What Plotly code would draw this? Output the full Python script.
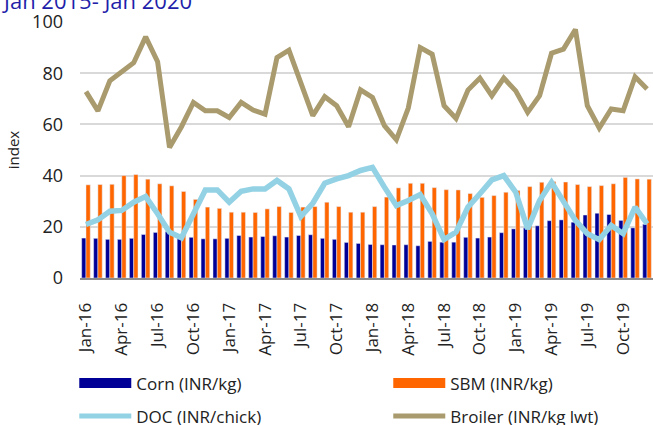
import plotly.graph_objects as go

months = []
for yr in ["16", "17", "18", "19"]:
    for m in ["Jan", "Feb", "Mar", "Apr", "May", "Jun", "Jul", "Aug", "Sep", "Oct", "Nov", "Dec"]:
        months.append(f"{m}-{yr}")

tick_labels = [m for i, m in enumerate(months) if i % 3 == 0]

corn = [15.6, 15.5, 15.1, 15.1, 15.5, 17.0, 17.8, 18.1, 15.3, 15.9, 15.3, 15.3,
        15.5, 16.6, 16.0, 16.2, 16.5, 16.0, 16.6, 16.9, 15.5, 15.1, 13.9, 13.5,
        13.1, 13.0, 12.9, 13.0, 12.6, 14.3, 14.0, 14.0, 15.9, 15.6, 16.0, 17.7,
        19.2, 19.6, 20.4, 22.4, 22.7, 21.8, 24.6, 25.3, 24.8, 22.5, 19.6, 21.0]

sbm = [36.4, 36.5, 36.6, 40.0, 40.4, 38.6, 36.8, 36.0, 33.8, 30.7, 27.7, 27.2,
       25.7, 25.7, 25.6, 27.0, 27.9, 25.6, 27.7, 27.9, 29.6, 27.9, 25.7, 25.7,
       27.9, 31.6, 35.2, 37.0, 37.0, 35.3, 34.5, 34.4, 33.0, 31.5, 32.2, 33.5,
       34.2, 35.7, 37.4, 37.7, 37.5, 36.5, 35.7, 36.1, 36.8, 39.3, 38.7, 38.6]

doc = [20.9, 22.7, 26.1, 26.4, 29.6, 31.8, 25.1, 17.9, 15.7, 25.1, 34.4, 34.4,
       29.6, 33.9, 34.8, 34.8, 38.1, 34.8, 24.0, 29.2, 37.0, 38.7, 40.0, 42.0,
       43.2, 35.5, 28.3, 30.3, 32.6, 25.1, 15.0, 17.9, 27.7, 32.9, 38.3, 40.0,
       33.5, 19.2, 30.3, 37.4, 29.6, 22.5, 17.3, 15.0, 20.5, 17.3, 27.7, 21.2]

broiler = [72.8, 65.3, 77.0, 80.6, 84.1, 94.2, 84.5, 51.0, 59.1, 68.6, 65.3, 65.3,
           62.7, 68.6, 65.6, 64.0, 86.1, 89.0, 76.4, 63.4, 70.8, 67.3, 59.1, 73.5,
           70.5, 59.5, 54.0, 66.4, 90.0, 87.4, 67.3, 62.3, 73.4, 78.1, 71.2, 78.1,
           73.1, 64.7, 71.2, 87.8, 89.4, 97.1, 67.3, 58.6, 66.0, 65.3, 78.6, 73.8]

C_CORN = "#000096"
C_SBM = "#FF6600"
C_DOC = "#92D2E4"
C_BROILER = "#A99B6E"
FONT = "Open Sans"

fig = go.Figure()
fig.add_trace(go.Bar(x=months, y=corn, name="Corn (INR/kg)", marker_color=C_CORN,
                     showlegend=False))
fig.add_trace(go.Bar(x=months, y=sbm, name="SBM (INR/kg)", marker_color=C_SBM,
                     showlegend=False))
fig.add_trace(go.Scatter(x=months, y=doc, name="DOC (INR/chick)", mode="lines",
                         line=dict(color=C_DOC, width=5.5), showlegend=False))
fig.add_trace(go.Scatter(x=months, y=broiler, name="Broiler (INR/kg lwt)", mode="lines",
                         line=dict(color=C_BROILER, width=5), showlegend=False))

# legend entries
fig.add_trace(go.Scatter(x=[None], y=[None], mode="lines", name="Corn (INR/kg)",
                         line=dict(color=C_CORN, width=12), legend="legend"))
fig.add_trace(go.Scatter(x=[None], y=[None], mode="lines", name="SBM (INR/kg)",
                         line=dict(color=C_SBM, width=12), legend="legend"))
fig.add_trace(go.Scatter(x=[None], y=[None], mode="lines", name="DOC (INR/chick)",
                         line=dict(color=C_DOC, width=5), legend="legend2"))
fig.add_trace(go.Scatter(x=[None], y=[None], mode="lines", name="Broiler (INR/kg lwt)",
                         line=dict(color=C_BROILER, width=5), legend="legend2"))

leg_common = dict(orientation="h", xanchor="left", yanchor="middle",
                  font=dict(family=FONT, size=17, color="#222"),
                  entrywidth=247, itemwidth=52, bgcolor="rgba(0,0,0,0)",
                  traceorder="normal")

fig.update_layout(
    width=653, height=425,
    margin=dict(l=80, r=0, t=22, b=147, pad=0, autoexpand=False),
    paper_bgcolor="white", plot_bgcolor="white",
    barmode="group", bargap=0.28, bargroupgap=0,
    font=dict(family=FONT, size=17, color="#222"),
    legend=dict(x=-0.010, y=-0.412, **leg_common),
    legend2=dict(x=-0.010, y=-0.541, **leg_common),
    xaxis=dict(type="category", range=[-0.5, 47.5], automargin=False,
               tickmode="array", tickvals=tick_labels, ticktext=tick_labels,
               tickangle=-90, showgrid=False, showline=True, linecolor="#8C8C8C",
               linewidth=2, ticks="", ticklabelstandoff=16, tickfont=dict(size=17)),
    yaxis=dict(range=[0, 100], tickvals=[0, 20, 40, 60, 80, 100], automargin=False,
               showgrid=True, gridcolor="#D9D9D9", gridwidth=1.5,
               zeroline=False, showline=False, ticks="", ticklabelstandoff=16,
               tickfont=dict(size=18),
               title=dict(text="index", font=dict(size=15), standoff=8)),
    annotations=[dict(text="Jan 2015- Jan 2020", xref="paper", yref="paper",
                      x=-0.1404, y=1.086, xanchor="left", yanchor="middle",
                      showarrow=False,
                      font=dict(family=FONT, size=22, color="#1F1FAA"))],
)

fig.write_html("out.html", config={"displayModeBar": False},
               post_script="document.body.style.margin='0';")
